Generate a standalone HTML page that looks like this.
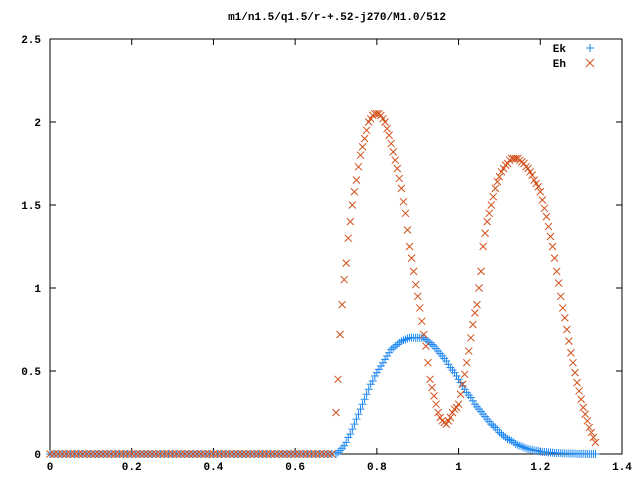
<!DOCTYPE html>
<html><head><meta charset="utf-8"><style>
body{margin:0;background:#fff}
svg text{font-family:"Liberation Mono","DejaVu Sans Mono",monospace;font-size:11px;font-weight:bold;fill:#000}
</style></head><body>
<svg id="chart" width="640" height="480" xmlns="http://www.w3.org/2000/svg">
<rect width="640" height="480" fill="#fff"/>
<text x="337" y="20" text-anchor="middle">m1/n1.5/q1.5/r-+.52-j270/M1.0/512</text>
<g id="axes"></g>
<g id="marks"></g>
<g>
<text x="566" y="52" text-anchor="end">Ek</text>
<g stroke="#1e88f0" stroke-width="1"><line x1="586" y1="48" x2="594" y2="48"/><line x1="590" y1="44" x2="590" y2="52"/></g>
<text x="566" y="67" text-anchor="end">Eh</text>
<g stroke="#d2501a" stroke-width="1"><line x1="586" y1="59" x2="594" y2="67"/><line x1="586" y1="67" x2="594" y2="59"/></g>
</g>
</svg>
<script>
const xTicks=[0,0.2,0.4,0.6,0.8,1,1.2,1.4];
const xTickLabels=["0","0.2","0.4","0.6","0.8","1","1.2","1.4"];
const yTicks=[0,0.5,1,1.5,2,2.5];
const yTickLabels=["0","0.5","1","1.5","2","2.5"];
const xs=[0,0.01,0.02,0.03,0.04,0.05,0.06,0.07,0.08,0.09,0.1,0.11,0.12,0.13,0.14,0.15,0.16,0.17,0.18,0.19,0.2,0.21,0.22,0.23,0.24,0.25,0.26,0.27,0.28,0.29,0.3,0.31,0.32,0.33,0.34,0.35,0.36,0.37,0.38,0.39,0.4,0.41,0.42,0.43,0.44,0.45,0.46,0.47,0.48,0.49,0.5,0.51,0.52,0.53,0.54,0.55,0.56,0.57,0.58,0.59,0.6,0.61,0.62,0.63,0.64,0.65,0.66,0.67,0.68,0.69,
0.7,0.705,0.71,0.715,0.72,0.725,0.73,0.735,0.74,0.745,
0.75,0.755,0.76,0.765,0.77,0.775,0.78,0.785,0.79,0.795,
0.8,0.805,0.81,0.815,0.82,0.825,0.83,0.835,0.84,0.845,
0.85,0.855,0.86,0.865,0.87,0.875,0.88,0.885,0.89,0.895,
0.9,0.905,0.91,0.915,0.92,0.925,0.93,0.935,0.94,0.945,
0.95,0.955,0.96,0.965,0.97,0.975,0.98,0.985,0.99,0.995,
1,1.005,1.01,1.015,1.02,1.025,1.03,1.035,1.04,1.045,
1.05,1.055,1.06,1.065,1.07,1.075,1.08,1.085,1.09,1.095,
1.1,1.105,1.11,1.115,1.12,1.125,1.13,1.135,1.14,1.145,
1.15,1.155,1.16,1.165,1.17,1.175,1.18,1.185,1.19,1.195,
1.2,1.205,1.21,1.215,1.22,1.225,1.23,1.235,1.24,1.245,
1.25,1.255,1.26,1.265,1.27,1.275,1.28,1.285,1.29,1.295,
1.3,1.305,1.31,1.315,1.32,1.325,1.33,1.335];
const ek=[0,0,0,0,0,0,0,0,0,0,0,0,0,0,0,0,0,0,0,0,0,0,0,0,0,0,0,0,0,0,0,0,0,0,0,0,0,0,0,0,0,0,0,0,0,0,0,0,0,0,0,0,0,0,0,0,0,0,0,0,0,0,0,0,0,0,0,0,0,0,
0,0.01,0.02,0.035,0.05,0.07,0.1,0.12,0.15,0.18,
0.21,0.24,0.27,0.3,0.33,0.36,0.39,0.42,0.44,0.47,
0.49,0.51,0.53,0.55,0.57,0.59,0.61,0.63,0.64,0.65,
0.66,0.67,0.68,0.685,0.69,0.695,0.7,0.7,0.7,0.7,
0.7,0.7,0.7,0.7,0.69,0.68,0.67,0.66,0.65,0.635,
0.62,0.605,0.59,0.575,0.56,0.54,0.52,0.505,0.49,0.47,
0.45,0.43,0.41,0.39,0.37,0.355,0.34,0.32,0.3,0.285,
0.27,0.255,0.24,0.225,0.21,0.195,0.18,0.17,0.16,0.145,
0.13,0.12,0.11,0.1,0.09,0.085,0.08,0.07,0.06,0.055,
0.05,0.045,0.04,0.035,0.03,0.028,0.025,0.022,0.02,0.018,
0.015,0.013,0.012,0.011,0.01,0.009,0.008,0.007,0.006,0.005,
0.005,0.004,0.004,0.003,0.003,0.002,0.002,0.002,0.001,0.001,
0.001,0.001,0.001,0,0,0,0,0];
const eh=[0,0,0,0,0,0,0,0,0,0,0,0,0,0,0,0,0,0,0,0,0,0,0,0,0,0,0,0,0,0,0,0,0,0,0,0,0,0,0,0,0,0,0,0,0,0,0,0,0,0,0,0,0,0,0,0,0,0,0,0,0,0,0,0,0,0,0,0,0,0,
0.25,0.45,0.72,0.9,1.05,1.15,1.3,1.4,1.5,1.58,
1.65,1.73,1.8,1.85,1.9,1.95,2.0,2.02,2.04,2.05,
2.05,2.05,2.04,2.02,2.0,1.96,1.92,1.87,1.82,1.77,
1.72,1.66,1.6,1.52,1.45,1.35,1.25,1.18,1.1,1.02,
0.95,0.88,0.8,0.72,0.65,0.55,0.45,0.4,0.35,0.3,
0.25,0.22,0.2,0.19,0.18,0.2,0.22,0.25,0.27,0.28,
0.3,0.36,0.42,0.48,0.55,0.62,0.7,0.78,0.85,0.9,
1.0,1.1,1.25,1.33,1.4,1.45,1.5,1.55,1.6,1.64,
1.67,1.7,1.72,1.74,1.75,1.77,1.78,1.78,1.78,1.78,
1.77,1.76,1.75,1.73,1.72,1.7,1.68,1.65,1.63,1.61,
1.58,1.53,1.48,1.43,1.37,1.31,1.25,1.18,1.1,1.03,
0.95,0.88,0.82,0.75,0.68,0.61,0.55,0.49,0.43,0.38,
0.33,0.28,0.24,0.2,0.16,0.13,0.1,0.07];
const X0=50,X1=622,Y0=454,Y1=39,XMAX=1.4,YMAX=2.5;
function sx(v){return X0+(X1-X0)*v/XMAX;}
function sy(v){return Y0-(Y0-Y1)*v/YMAX;}
const NS="http://www.w3.org/2000/svg";
function mk(tag,attrs,parent){const e=document.createElementNS(NS,tag);for(const k in attrs)e.setAttribute(k,attrs[k]);parent.appendChild(e);return e;}
const axes=document.getElementById('axes');
const frame=mk('rect',{x:X0,y:Y1,width:X1-X0,height:Y0-Y1,fill:'none',stroke:'#000','stroke-width':1},axes);


xTicks.forEach((t,i)=>{const x=sx(t);
 const g=mk('g',{stroke:'#000'},axes);
 
 
 mk('line',{x1:x,y1:Y0,x2:x,y2:Y0-6},g);mk('line',{x1:x,y1:Y1,x2:x,y2:Y1+6},g);
 const tx=mk('text',{x:x,y:Y0+16,'text-anchor':'middle'},axes);tx.textContent=xTickLabels[i];
 
 });
yTicks.forEach((t,i)=>{const y=sy(t);
 const g=mk('g',{stroke:'#000'},axes);
 
 
 mk('line',{x1:X0,y1:y,x2:X0+6,y2:y},g);mk('line',{x1:X1,y1:y,x2:X1-6,y2:y},g);
 const tx=mk('text',{x:X0-9,y:y+4,'text-anchor':'end'},axes);tx.textContent=yTickLabels[i];
 
 });
const marks=document.getElementById('marks');
const gk=mk('g',{stroke:'#1e88f0','stroke-width':1},marks);


const gh=mk('g',{stroke:'#d2501a','stroke-width':1},marks);


xs.forEach((xv,i)=>{const x=sx(xv),y=sy(ek[i]);
 const p=mk('path',{d:`M${x-4} ${y}H${x+4}M${x} ${y-4}V${y+4}`,fill:'none'},gk);
 
 });
xs.forEach((xv,i)=>{const x=sx(xv),y=sy(eh[i]);
 const p=mk('path',{d:`M${x-3.5} ${y-3.5}L${x+3.5} ${y+3.5}M${x-3.5} ${y+3.5}L${x+3.5} ${y-3.5}`,fill:'none'},gh);
 
 });
</script>
</body></html>
